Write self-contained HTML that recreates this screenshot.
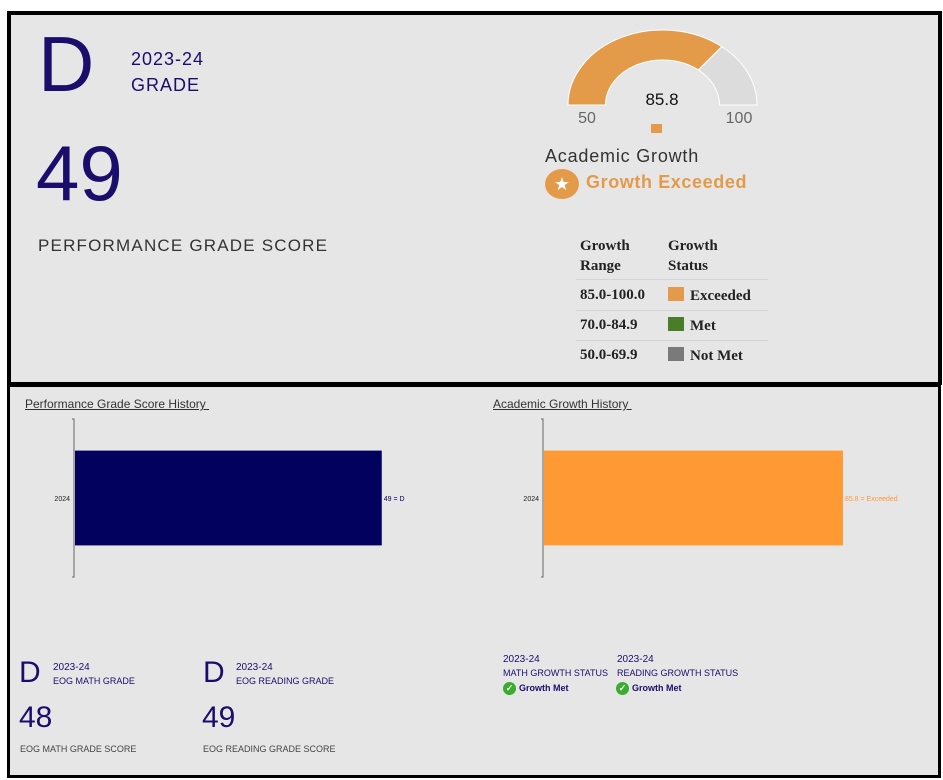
<!DOCTYPE html>
<html><head><meta charset="utf-8"><style>
body{margin:0;width:943px;height:780px;background:#fff;position:relative;overflow:hidden;font-family:"Liberation Sans",sans-serif}
.abs{position:absolute;white-space:nowrap}
.navy{color:#1a0d6b}
</style></head><body>
<div class="abs" style="left:7px;top:11px;width:927px;height:368px;background:#e6e6e6;border:4px solid #000;border-bottom:2px solid #555"></div>
<div class="abs" style="left:7px;top:382px;width:928px;height:388px;background:#e6e6e6;border:3px solid #000;border-top:5px solid #000"></div>

<div class="abs navy" style="left:38px;top:24px;font-size:78px;line-height:80px">D</div>
<div class="abs navy" style="left:131px;top:49px;font-size:18px;letter-spacing:1px">2023-24</div>
<div class="abs navy" style="left:131px;top:75px;font-size:18px;letter-spacing:1px">GRADE</div>
<div class="abs navy" style="left:36px;top:130px;font-size:78px;line-height:86px">49</div>
<div class="abs" style="left:38px;top:236px;font-size:17px;color:#333;letter-spacing:1.2px">PERFORMANCE GRADE SCORE</div>

<svg class="abs" style="left:0;top:0" width="943" height="140">
<g id="gauge"></g>
<text x="662" y="105" text-anchor="middle" font-size="17" fill="#111" font-family="Liberation Sans">85.8</text>
<text x="587" y="123" text-anchor="middle" font-size="16" fill="#666" font-family="Liberation Sans">50</text>
<text x="739" y="123" text-anchor="middle" font-size="16" fill="#666" font-family="Liberation Sans">100</text>
<rect x="651" y="124" width="11" height="9" fill="#e39b4a"/>
</svg>
<div class="abs" style="left:545px;top:146px;font-size:18px;color:#333;letter-spacing:0.8px">Academic Growth</div>
<div class="abs" style="left:545px;top:169px;width:34px;height:30px;border-radius:50%;background:#e39b4a;color:#fff;text-align:center;font-size:18px;line-height:30px">★</div>
<div class="abs" style="left:586px;top:172px;font-size:18px;color:#e39b4a;font-weight:bold;letter-spacing:0.6px">Growth Exceeded</div>

<div class="abs" style="left:576px;top:236px;width:192px;font-family:'Liberation Serif',serif;font-weight:bold;font-size:15px;color:#222">
<div class="abs" style="left:4px;top:0;line-height:20px">Growth<br>Range</div>
<div class="abs" style="left:92px;top:0;line-height:20px">Growth<br>Status</div>
<div class="abs" style="left:0;top:43px;width:192px;border-top:1px solid #d4d4d4"></div>
<div class="abs" style="left:4px;top:51px">85.0-100.0</div>
<div class="abs" style="left:92px;top:51px"><span style="display:inline-block;width:16px;height:14px;background:#e39b4a;vertical-align:-1px;margin-right:6px"></span>Exceeded</div>
<div class="abs" style="left:0;top:74px;width:192px;border-top:1px solid #d4d4d4"></div>
<div class="abs" style="left:4px;top:81px">70.0-84.9</div>
<div class="abs" style="left:92px;top:81px"><span style="display:inline-block;width:16px;height:14px;background:#4a7d2a;vertical-align:-1px;margin-right:6px"></span>Met</div>
<div class="abs" style="left:0;top:104px;width:192px;border-top:1px solid #d4d4d4"></div>
<div class="abs" style="left:4px;top:111px">50.0-69.9</div>
<div class="abs" style="left:92px;top:111px"><span style="display:inline-block;width:16px;height:14px;background:#7a7a7a;vertical-align:-1px;margin-right:6px"></span>Not Met</div>
</div>

<div class="abs" style="left:25px;top:397px;font-size:12px;color:#333;text-decoration:underline">Performance Grade Score History&nbsp;</div>
<div class="abs" style="left:493px;top:397px;font-size:12px;color:#333;text-decoration:underline">Academic Growth History&nbsp;</div>
<svg class="abs" style="left:0;top:0" width="943" height="600"><g id="charts"></g></svg>

<div class="abs navy" style="left:19px;top:656px;font-size:30px">D</div>
<div class="abs navy" style="left:53px;top:662px;font-size:10px">2023-24</div>
<div class="abs navy" style="left:53px;top:676px;font-size:9px">EOG MATH GRADE</div>
<div class="abs navy" style="left:19px;top:701px;font-size:30px">48</div>
<div class="abs" style="left:20px;top:744px;font-size:9px;color:#444">EOG MATH GRADE SCORE</div>
<div class="abs navy" style="left:203px;top:656px;font-size:30px">D</div>
<div class="abs navy" style="left:236px;top:662px;font-size:10px">2023-24</div>
<div class="abs navy" style="left:236px;top:676px;font-size:9px">EOG READING GRADE</div>
<div class="abs navy" style="left:202px;top:701px;font-size:30px">49</div>
<div class="abs" style="left:203px;top:744px;font-size:9px;color:#444">EOG READING GRADE SCORE</div>

<div class="abs navy" style="left:503px;top:654px;font-size:10px">2023-24</div>
<div class="abs navy" style="left:503px;top:668px;font-size:9px">MATH GROWTH STATUS</div>
<div class="abs navy" style="left:503px;top:682px;font-size:9px;font-weight:bold"><span style="display:inline-block;width:13px;height:13px;border-radius:50%;background:#3aad2e;color:#fff;font-size:9px;text-align:center;line-height:13px;margin-right:3px">✓</span>Growth Met</div>
<div class="abs navy" style="left:617px;top:654px;font-size:10px">2023-24</div>
<div class="abs navy" style="left:617px;top:668px;font-size:9px">READING GROWTH STATUS</div>
<div class="abs navy" style="left:616px;top:682px;font-size:9px;font-weight:bold"><span style="display:inline-block;width:13px;height:13px;border-radius:50%;background:#3aad2e;color:#fff;font-size:9px;text-align:center;line-height:13px;margin-right:3px">✓</span>Growth Met</div>

<script>
const gaugeMin = 50, gaugeMax = 100, gaugeValue = 85.8;
const perfCategories = ["2024"];
const perfValues = [49];
const perfLabels = ["49 = D"];
const growthCategories = ["2024"];
const growthValues = [85.8];
const growthLabels = ["85.8 = Exceeded"];
const NS = "http://www.w3.org/2000/svg";
function mk(t, a){const e=document.createElementNS(NS,t);for(const k in a)e.setAttribute(k,a[k]);return e;}
// gauge
const gcx=662.5, gcy=105, rxo=94.5, ryo=75, rxi=57, ryi=45;
function gpt(v, rx, ry){const a=Math.PI*(1-(v-gaugeMin)/(gaugeMax-gaugeMin));return [gcx+rx*Math.cos(a), gcy-ry*Math.sin(a)];}
function seg(v0,v1,fill,name){
  const p0=gpt(v0,rxo,ryo),p1=gpt(v1,rxo,ryo),q1=gpt(v1,rxi,ryi),q0=gpt(v0,rxi,ryi);
  const d=`M${p0} A${rxo},${ryo} 0 0 1 ${p1} L${q1} A${rxi},${ryi} 0 0 0 ${q0} Z`;
  const p=mk("path",{d:d,fill:fill,stroke:"#fff","stroke-width":1});
  
  
  document.getElementById("gauge").appendChild(p);
}
seg(gaugeMin,gaugeValue,"#e39b4a","gauge-value-arc");
seg(gaugeValue,gaugeMax,"#dcdcdc","gauge-remaining-arc");
// bar charts
function barChart(cfg){
  const g=document.getElementById("charts");
  const x=v=>cfg.x0+v/cfg.xMax*cfg.w;
  const band=(cfg.y1-cfg.y0)/cfg.cats.length;
  const ax=mk("path",{d:`M${cfg.x0-2},${cfg.y0} H${cfg.x0} V${cfg.y1} H${cfg.x0-2}`,fill:"none",stroke:"#666","stroke-width":1});
  
  
  g.appendChild(ax);
  cfg.cats.forEach((c,i)=>{
    const yc=cfg.y0+band*(i+0.5), bh=band*0.6;
    const r=mk("rect",{x:cfg.x0+1,y:yc-bh/2,width:x(cfg.vals[i])-cfg.x0-1,height:bh,fill:cfg.color});
    
    
    g.appendChild(r);
    const t=mk("text",{x:cfg.x0-4,y:yc+3,"text-anchor":"end","font-size":7,fill:"#222","font-family":"Liberation Sans"});
    t.textContent=c;
    
    
    g.appendChild(t);
    const l=mk("text",{x:x(cfg.vals[i])+2,y:yc+3,"font-size":7,fill:cfg.labelColor,"font-family":"Liberation Sans"});
    l.textContent=cfg.labels[i];
    
    
    g.appendChild(l);
  });
}
barChart({name:"performance-history",cats:perfCategories,vals:perfValues,labels:perfLabels,x0:74,w:380,xMax:60.5,y0:419,y1:577,color:"#02015d",labelColor:"#02015d"});
barChart({name:"growth-history",cats:growthCategories,vals:growthValues,labels:growthLabels,x0:543,w:380,xMax:108.7,y0:419,y1:577,color:"#ff9933",labelColor:"#ff9933"});
</script>
</body></html>
